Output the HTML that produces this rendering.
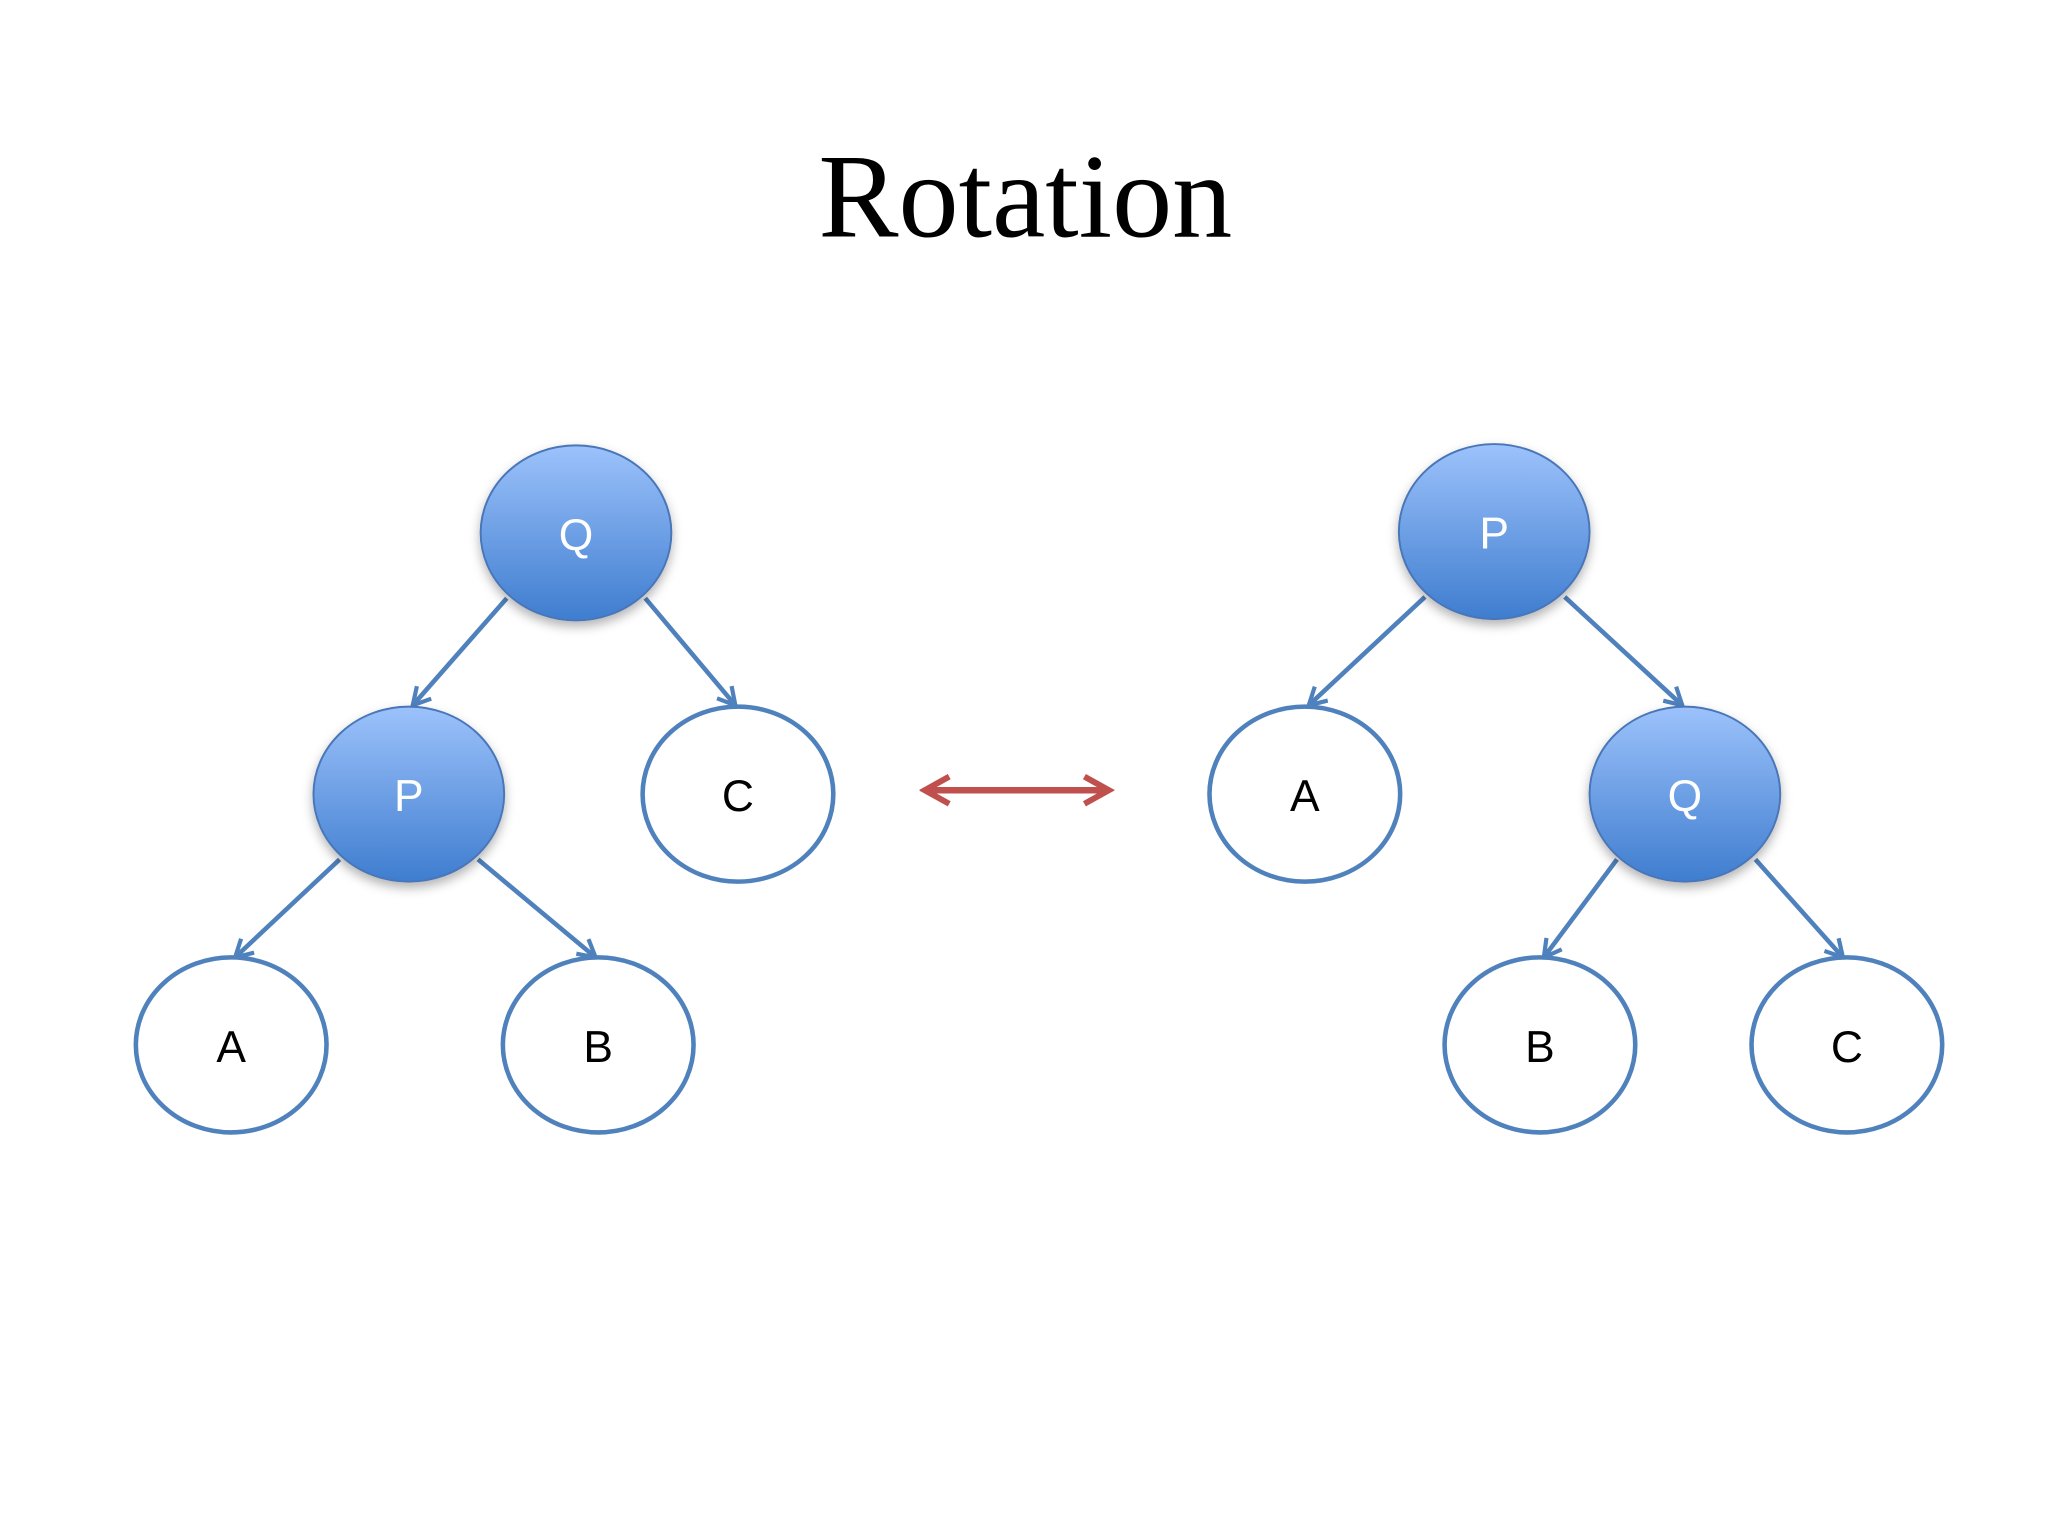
<!DOCTYPE html>
<html><head><style>html,body{margin:0;padding:0;background:#fff}svg{display:block}</style></head>
<body>
<svg width="2048" height="1536" viewBox="0 0 1568 1176" xmlns="http://www.w3.org/2000/svg">
<defs>
<linearGradient id="g" x1="0" y1="0" x2="0" y2="1">
<stop offset="0" stop-color="#9cc2fb"/><stop offset="1" stop-color="#3f7dcf"/>
</linearGradient>
<filter id="s" x="-30%" y="-30%" width="160%" height="160%"><feDropShadow dx="0" dy="4" stdDeviation="4" flood-color="#000" flood-opacity="0.3"/></filter>
<marker id="ah" viewBox="0 0 12 12" refX="10" refY="6" markerWidth="5" markerHeight="5" orient="auto" markerUnits="strokeWidth">
<path d="M1,1 L10,6 L1,11" fill="none" stroke="#4f81bd" stroke-width="2.2"/></marker>
<marker id="rh" viewBox="0 0 12 12" refX="10" refY="6" markerWidth="5" markerHeight="5" orient="auto-start-reverse" markerUnits="strokeWidth">
<path d="M1,1 L10,6 L1,11" fill="none" stroke="#c0504d" stroke-width="2.2"/></marker>
</defs>
<text x="785" y="181" font-family="Liberation Serif, serif" font-size="92" text-anchor="middle" fill="#000">Rotation</text>
<g stroke="#4f81bd" stroke-width="3.5" fill="none" marker-end="url(#ah)">
<line x1="388" y1="458" x2="316" y2="540"/>
<line x1="494" y1="458" x2="563" y2="540"/>
<line x1="260" y1="658" x2="180" y2="733"/>
<line x1="366" y1="658" x2="456" y2="733"/>
<line x1="1091" y1="457" x2="1002" y2="540"/>
<line x1="1198" y1="457" x2="1288" y2="540"/>
<line x1="1238" y1="658" x2="1182" y2="733"/>
<line x1="1344" y1="658" x2="1411" y2="733"/>
</g>
<line x1="708" y1="605" x2="849" y2="605" stroke="#c0504d" stroke-width="5" marker-start="url(#rh)" marker-end="url(#rh)"/>
<g stroke="#4a76b8" stroke-width="1.5" fill="url(#g)" filter="url(#s)">
<ellipse cx="441" cy="408" rx="73" ry="67"/>
<ellipse cx="313" cy="608" rx="73" ry="67"/>
<ellipse cx="1144" cy="407" rx="73" ry="67"/>
<ellipse cx="1290" cy="608" rx="73" ry="67"/>
</g>
<g stroke="#4f81bd" stroke-width="3.5" fill="#fff">
<ellipse cx="565" cy="608" rx="73" ry="67"/>
<ellipse cx="177" cy="800" rx="73" ry="67"/>
<ellipse cx="458" cy="800" rx="73" ry="67"/>
<ellipse cx="999" cy="608" rx="73" ry="67"/>
<ellipse cx="1179" cy="800" rx="73" ry="67"/>
<ellipse cx="1414" cy="800" rx="73" ry="67"/>
</g>
<g font-family="Liberation Sans, sans-serif" font-size="34" text-anchor="middle">
<text x="441" y="421" fill="#fff">Q</text>
<text x="313" y="621" fill="#fff">P</text>
<text x="1144" y="420" fill="#fff">P</text>
<text x="1290" y="621" fill="#fff">Q</text>
<text x="565" y="621">C</text>
<text x="177" y="813">A</text>
<text x="458" y="813">B</text>
<text x="999" y="621">A</text>
<text x="1179" y="813">B</text>
<text x="1414" y="813">C</text>
</g>
</svg>
</body></html>
